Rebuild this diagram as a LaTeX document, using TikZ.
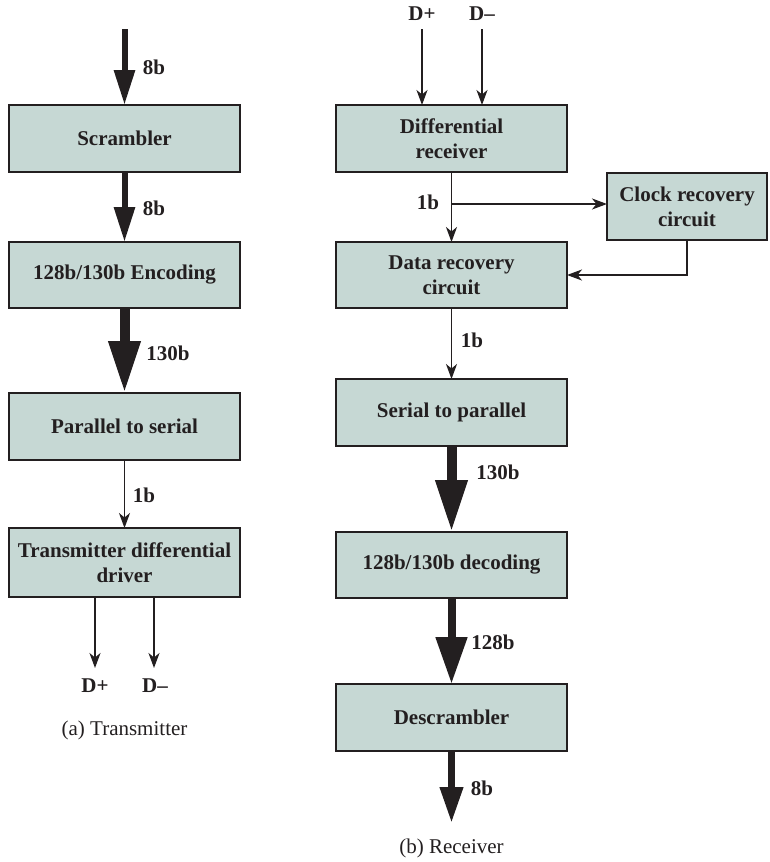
\documentclass[tikz,border=0pt]{standalone}
\usepackage{fontspec}
\setmainfont{Liberation Serif}
\usetikzlibrary{arrows.meta}
\definecolor{boxfill}{RGB}{198,216,212}
\definecolor{ink}{RGB}{35,31,32}
\begin{document}
\begin{tikzpicture}[x=1pt,y=-1pt,
  every node/.style={text=ink,font=\fontsize{21}{25}\selectfont\bfseries},
  blk/.style={draw=ink,line width=2.2pt,fill=boxfill,rectangle,minimum width=231pt,align=center,inner sep=2pt,outer sep=0pt},
  lbl/.style={inner sep=0pt},
  captext/.style={inner sep=0pt,font=\fontsize{21}{25}\selectfont\mdseries},
  thinarr/.style={draw=ink,line width=1.9pt,-{Stealth[length=15pt,width=11pt,inset=4.5pt]}},
  fatA/.style={draw=ink,line width=6pt,-{Triangle[length=35pt,width=20pt]}},
  fatB/.style={draw=ink,line width=10pt,-{Triangle[length=52pt,width=30pt]}},
  fatC/.style={draw=ink,line width=8pt,-{Triangle[length=47pt,width=30pt]}},
  fatD/.style={draw=ink,line width=7pt,-{Triangle[length=36pt,width=22pt]}}]
\useasboundingbox (0,0) rectangle (769,862);
% ---------- transmitter ----------
\node[blk,minimum height=67pt] (scr) at (124.5,138.5) {Scrambler};
\node[blk,minimum height=66pt] (enc) at (124.5,275) {128b/130b Encoding};
\node[blk,minimum height=67pt] (par) at (124.5,426.5) {Parallel to serial};
\node[blk,minimum height=69pt] (tx) at (124.5,562.5) {Transmitter differential\\driver};
\coordinate (tin) at (124.5,29);
\coordinate (tdp) at (95,668);
\coordinate (tdm) at (154,668);
\draw[fatA] (tin) -- (scr.north);
\draw[fatA] (scr.south) -- (enc.north);
\draw[fatB] (enc.south) -- (par.north);
\draw[thinarr] (par.south) -- (tx.north);
\draw[thinarr] (tx.south -| tdp) -- (tdp);
\draw[thinarr] (tx.south -| tdm) -- (tdm);
\node[lbl] (l1) at (154,67) {8b};
\node[lbl] (l2) at (154,208) {8b};
\node[lbl] (l3) at (168,353) {130b};
\node[lbl] (l4) at (144,495) {1b};
\node[lbl] (tdpl) at (95,686) {D+};
\node[lbl] (tdml) at (155,686) {D–};
\node[captext] (capa) at (124.5,730) {(a) Transmitter};
% ---------- receiver ----------
\node[blk,minimum height=67pt] (dr) at (451.5,138.5) {Differential\\receiver};
\node[blk,minimum width=160pt,minimum height=67pt] (clk) at (687,206.5) {Clock recovery\\circuit};
\node[blk,minimum height=66pt] (dat) at (451.5,275) {Data recovery\\circuit};
\node[blk,minimum height=67pt] (sp) at (451.5,412.5) {Serial to parallel};
\node[blk,minimum height=66pt] (dec) at (451.5,565) {128b/130b decoding};
\node[blk,minimum height=67pt] (ds) at (451.5,717.5) {Descrambler};
\coordinate (rdp) at (422,29);
\coordinate (rdm) at (482,29);
\coordinate (br) at (451.5,204);
\coordinate (rout) at (451.5,823);
\draw[thinarr] (rdp) -- (rdp |- dr.north);
\draw[thinarr] (rdm) -- (rdm |- dr.north);
\draw[thinarr] (dr.south) -- (dat.north);
\draw[thinarr] (br) -- (clk.west |- br);
\draw[thinarr] (clk.south) |- (dat.east);
\draw[thinarr] (dat.south) -- (sp.north);
\draw[fatB] (sp.south) -- (dec.north);
\draw[fatC] (dec.south) -- (ds.north);
\draw[fatD] (ds.south) -- (rout);
\node[lbl] (rdpl) at (422,14) {D+};
\node[lbl] (rdml) at (482,14) {D–};
\node[lbl] (r1) at (428,202) {1b};
\node[lbl] (r2) at (472,340) {1b};
\node[lbl] (r3) at (498,472) {130b};
\node[lbl] (r4) at (493,642) {128b};
\node[lbl] (r5) at (482,788) {8b};
\node[captext] (capb) at (451.5,848) {(b) Receiver};
\end{tikzpicture}
\end{document}
